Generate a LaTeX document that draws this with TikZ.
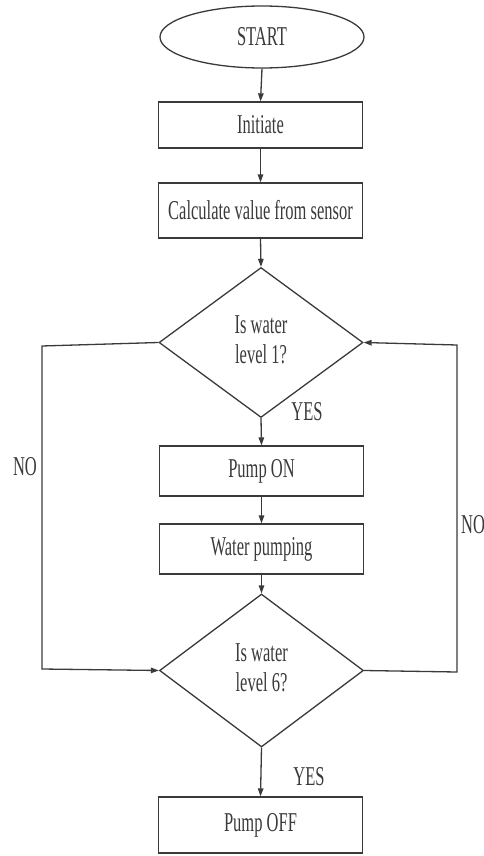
\documentclass[tikz,border=0pt]{standalone}
\usepackage{fontspec}
\setmainfont{Liberation Serif}
\usepackage{graphicx}
\usetikzlibrary{shapes.geometric,arrows.meta}
\newcommand\tx[1]{\scalebox{1}[1.65]{#1}}
\newcommand\ttwo[2]{\scalebox{1}[1.65]{\begin{tabular}{@{}c@{}}#1\\#2\end{tabular}}}
\definecolor{ink}{HTML}{3A3A3A}
\begin{document}
\begin{tikzpicture}[x=1pt,y=-1pt,
  every node/.style={font=\fontsize{16.5}{18}\selectfont, text=ink, inner sep=0pt},
  shp/.style={draw=ink, line width=1.3pt},
  procbox/.style={shp, rectangle, minimum width=204pt, minimum height=#1},
  decide/.style={shp, diamond, minimum width=204pt, minimum height=#1},
  termin/.style={shp, ellipse, minimum width=204pt, minimum height=62pt},
  conn/.style={draw=ink, line width=1.3pt},
  arr/.style={conn, -{Triangle[length=8pt,width=5.5pt]}},
  lbl/.style={}]
\useasboundingbox (0,0) rectangle (484,856);
\node[termin] (start) at (262,37) {\tx{START}};
\node[procbox=46pt] (init) at (260.5,125) {\tx{Initiate}};
\node[procbox=55pt] (calc) at (260.5,210.5) {\tx{Calculate value from sensor}};
\node[decide=150pt] (d1) at (261,342.5) {\ttwo{Is water}{level 1?}};
\node[procbox=50pt] (pon) at (261.5,471) {\tx{Pump ON}};
\node[procbox=50pt] (pump) at (261.5,549) {\tx{Water pumping}};
\node[decide=153pt] (d2) at (261.5,670.5) {\ttwo{Is water}{level 6?}};
\node[procbox=56pt] (poff) at (260.5,825) {\tx{Pump OFF}};
\coordinate (nl1) at (42,346);
\coordinate (nl2) at (42,669);
\coordinate (nr1) at (457,672);
\coordinate (nr2) at (457,345);
\draw[arr] (start.south) -- (init.north);
\draw[arr] (init.south) -- (calc.north);
\draw[arr] (calc.south) -- (d1.north);
\draw[arr] (d1.south) -- (pon.north);
\draw[arr] (pon.south) -- (pump.north);
\draw[arr] (pump.south) -- (d2.north);
\draw[arr] (d2.south) -- (poff.north);
\draw[arr] (d1.west) -- (nl1) -- (nl2) -- (d2.west);
\draw[arr] (d2.east) -- (nr1) -- (nr2) -- (d1.east);
\node[lbl] (yes1) at (307,412) {\tx{YES}};
\node[lbl] (yes2) at (309,777) {\tx{YES}};
\node[lbl] (no1) at (25,467) {\tx{NO}};
\node[lbl, anchor=west] (no2) at (461,525) {\tx{NO}};
\end{tikzpicture}
\end{document}
